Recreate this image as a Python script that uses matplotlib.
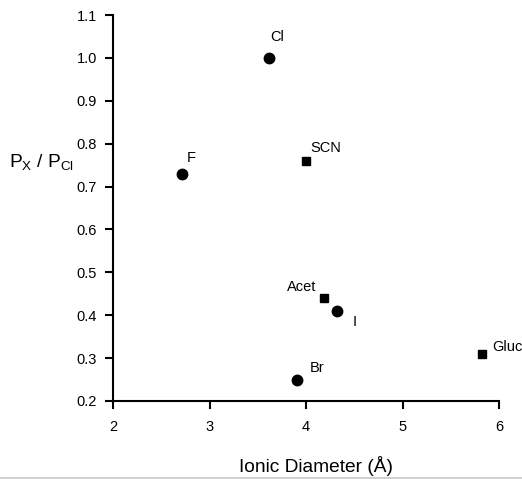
import matplotlib.pyplot as plt
from matplotlib.lines import Line2D

plt.rcParams["font.family"] = ["Liberation Sans", "DejaVu Sans"]

# anions measured: ionic diameter (Angstrom) and relative permeability
halide_names = ["Cl", "F", "I", "Br"]
halide_diam = [3.62, 2.72, 4.32, 3.91]
halide_perm = [1.00, 0.73, 0.41, 0.25]

organic_names = ["SCN", "Acet", "Gluc"]
organic_diam = [4.00, 4.19, 5.82]
organic_perm = [0.76, 0.44, 0.31]

# label offsets in points (dx, dy, ha, va)
label_offsets = {
    "Cl": (1, 10, "left", "bottom"),
    "F": (3, 6, "left", "bottom"),
    "I": (11, -3, "left", "top"),
    "Br": (9, 3, "left", "bottom"),
    "SCN": (3, 4, "left", "bottom"),
    "Acet": (-6, 3, "right", "bottom"),
    "Gluc": (8, 0, "left", "bottom"),
}

W, H = 522, 479
fig = plt.figure(figsize=(W / 100, H / 100), dpi=100)
ax = fig.add_axes([113 / W, 1 - 401 / H, 386 / W, 386 / H])

ax.plot(halide_diam, halide_perm, "o", color="black", markersize=7.5, ls="none")
ax.plot(organic_diam, organic_perm, "s", color="black", markersize=6, ls="none")

for names, xs, ys in [(halide_names, halide_diam, halide_perm),
                      (organic_names, organic_diam, organic_perm)]:
    for n, x, y in zip(names, xs, ys):
        dx, dy, ha, va = label_offsets[n]
        ax.annotate(n, (x, y), xytext=(dx, dy), textcoords="offset points",
                    ha=ha, va=va, fontsize=10.5, annotation_clip=False)

ax.set_xlim(2, 6)
ax.set_ylim(0.2, 1.1)
ax.set_xticks([2, 3, 4, 5, 6])
ax.set_yticks([0.2, 0.3, 0.4, 0.5, 0.6, 0.7, 0.8, 0.9, 1.0, 1.1])
ax.set_yticklabels([f"{v:.1f}" for v in ax.get_yticks()])

for side in ["top", "right"]:
    ax.spines[side].set_visible(False)
for side in ["left", "bottom"]:
    ax.spines[side].set_linewidth(1.5)
ax.tick_params(direction="out", length=5.5, width=1.5, labelsize=10.5, pad=6)
ax.tick_params(axis="x", pad=8)

# axis titles placed by baseline
fig.text(316 / W, 1 - 472 / H, "Ionic Diameter (Å)", fontsize=13.8,
         ha="center", va="baseline")
fig.text(9 / W, 1 - 168 / H, r"P$_\mathregular{X}$ / P$_\mathregular{Cl}$",
         fontsize=13.8, ha="left", va="baseline")

# thin rule along the bottom edge
fig.add_artist(Line2D([0, 1], [1 - 478 / H] * 2, color="#c8c8c8", lw=1.2,
                      transform=fig.transFigure))

fig.savefig("out.png", dpi=100)
